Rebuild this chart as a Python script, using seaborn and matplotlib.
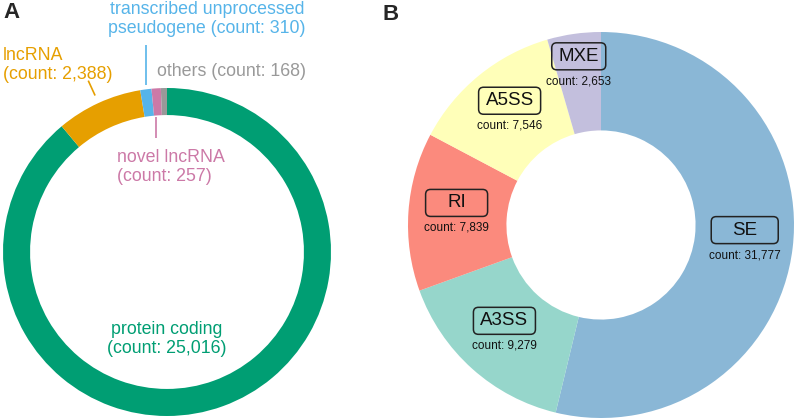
import numpy as np
import matplotlib
matplotlib.use("Agg")
import matplotlib.pyplot as plt
import seaborn as sns
from matplotlib.patches import FancyBboxPatch

sns.set_theme(style="white")
plt.rcParams['font.family'] = ['Liberation Sans', 'DejaVu Sans']

# Panel A data
a_labels = ["protein coding", "lncRNA", "transcribed unprocessed\npseudogene", "novel lncRNA", "others"]
a_counts = [25016, 2388, 310, 257, 168]
a_colors = ["#009E73", "#E69F00", "#56B4E9", "#CC79A7", "#999999"]

# Panel B data
b_labels = ["SE", "A3SS", "RI", "A5SS", "MXE"]
b_counts = [31777, 9279, 7839, 7546, 2653]
set3 = sns.color_palette("Set3", 12)
b_colors = [set3[4], set3[0], set3[3], set3[1], set3[2]]

W, H = 796, 418
fig = plt.figure(figsize=(W / 100, H / 100), dpi=100)

# ---------- Panel A ----------
cxA, cyA, rA = 167, 252, 164
axA = fig.add_axes([(cxA - rA) / W, (H - cyA - rA) / H, 2 * rA / W, 2 * rA / H])
wedgesA, _ = axA.pie(a_counts, colors=a_colors, startangle=90, counterclock=False,
                     radius=1, wedgeprops=dict(width=0.165, linewidth=0))
axA.set_xlim(-1, 1); axA.set_ylim(-1, 1); axA.set_aspect('equal'); axA.axis('off')

fsA = 12.8
def fmt(n):
    return f"{n:,}"

def mid_angle(w):
    return np.deg2rad((w.theta1 + w.theta2) / 2)

# protein coding (inside)
axA.text(0.0, -0.53, f"{a_labels[0]}\n(count: {fmt(a_counts[0])})", color=a_colors[0],
         fontsize=fsA, ha='center', va='center', linespacing=1.15, clip_on=False)

# lncRNA (outside, radial leader)
t = mid_angle(wedgesA[1])
axA.plot([1.05 * np.cos(t), 1.15 * np.cos(t)], [1.05 * np.sin(t), 1.15 * np.sin(t)],
         color=a_colors[1], lw=1.2, clip_on=False, solid_capstyle='butt')
axA.text(-1.0, 1.14, f"{a_labels[1]}\n(count: {fmt(a_counts[1])})", color=a_colors[1],
         fontsize=fsA, ha='left', va='center', linespacing=1.15, clip_on=False)

# transcribed unprocessed pseudogene
t = mid_angle(wedgesA[2])
xl = np.cos(t)
axA.plot([xl, xl], [1.02, 1.26], color=a_colors[2], lw=1.2, clip_on=False,
         solid_capstyle='butt')
axA.text(0.244, 1.42, f"{a_labels[2]} (count: {a_counts[2]})", color=a_colors[2],
         fontsize=fsA, ha='center', va='center', linespacing=1.15, clip_on=False)

# novel lncRNA (inside below)
t = mid_angle(wedgesA[3])
xl = np.cos(t)
axA.plot([xl, xl], [0.825, 0.695], color=a_colors[3], lw=1.2, clip_on=False,
         solid_capstyle='butt')
axA.text(-0.305, 0.52, f"{a_labels[3]}\n(count: {a_counts[3]})", color=a_colors[3],
         fontsize=fsA, ha='left', va='center', linespacing=1.15, clip_on=False)

# others
axA.text(-0.06, 1.10, f"{a_labels[4]} (count: {a_counts[4]})", color=a_colors[4],
         fontsize=fsA, ha='left', va='center', clip_on=False)

fig.text(3 / W, 1 - 13 / H, "A", fontsize=16, fontweight='bold', ha='left', va='center')

# ---------- Panel B ----------
cxB, cyB, rB = 601, 225, 193
axB = fig.add_axes([(cxB - rB) / W, (H - cyB - rB) / H, 2 * rB / W, 2 * rB / H])
wedgesB, _ = axB.pie(b_counts, colors=b_colors, startangle=90, counterclock=False,
                     radius=1, wedgeprops=dict(width=0.51, linewidth=0, alpha=0.92))
axB.set_xlim(-1, 1); axB.set_ylim(-1, 1); axB.set_aspect('equal'); axB.axis('off')

px = 1.0 / rB  # data units per pixel
box_w = {"SE": 67, "A3SS": 62, "RI": 62, "A5SS": 62, "MXE": 54}
box_h = 27
lab_r = {"SE": 0.75, "A3SS": 0.75, "RI": 0.75, "A5SS": 0.75, "MXE": 0.82}
for w, name, n in zip(wedgesB, b_labels, b_counts):
    t = mid_angle(w)
    r = lab_r[name]
    x, y = r * np.cos(t), r * np.sin(t)
    bx, by = x, y + 12 * px
    bw, bh = box_w[name] * px, box_h * px
    patch = FancyBboxPatch((bx - bw / 2, by - bh / 2), bw, bh,
                           boxstyle=f"round,pad=0,rounding_size={5 * px}",
                           fc='none', ec='#222222', lw=1.1, clip_on=False)
    axB.add_patch(patch)
    axB.text(bx, by, name, fontsize=13.5, ha='center', va='center', color='#111111')
    axB.text(x, y - 13 * px, f"count: {fmt(n)}", fontsize=8.5, ha='center', va='center',
             color='#111111')

fig.text(383 / W, 1 - 15 / H, "B", fontsize=16, fontweight='bold', ha='left', va='center')

fig.savefig("out.png", dpi=100)
